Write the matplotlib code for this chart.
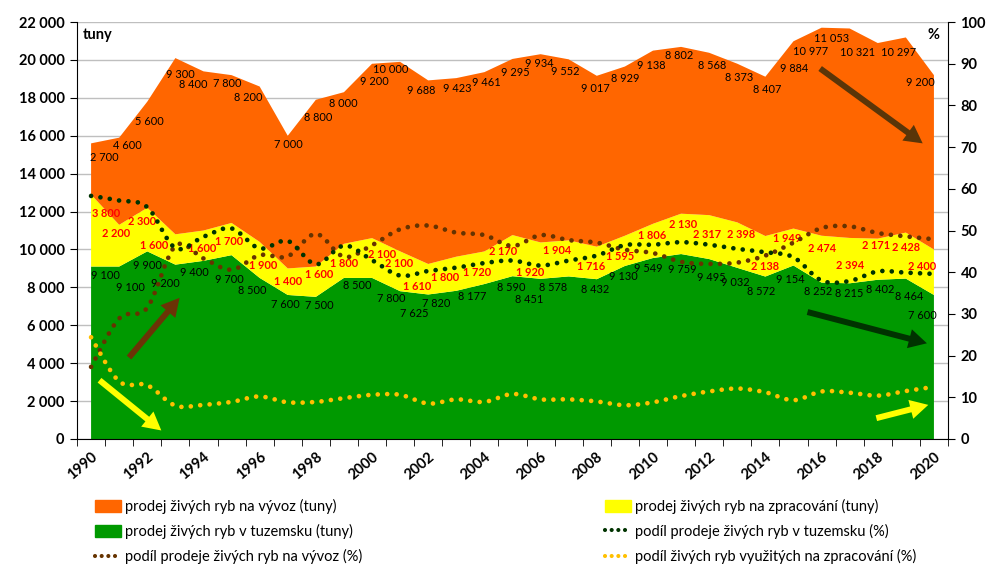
import matplotlib
matplotlib.use('Agg')
import matplotlib.pyplot as plt
import numpy as np
from matplotlib.path import Path
from matplotlib.patches import PathPatch, Patch
from matplotlib.lines import Line2D

plt.rcParams['font.family'] = ['Lato', 'DejaVu Sans']

# --- data (tonnes / %) ---
years = list(range(1990, 2021))

domestic_t = [9100, 9100, 9900, 9200, 9400, 9700, 8500, 7600, 7500, 8500,
              8500, 7800, 7625, 7820, 8177, 8590, 8451, 8578, 8432, 9130,
              9549, 9759, 9495, 9032, 8572, 9154, 8252, 8215, 8402, 8464, 7600]
processing_t = [3800, 2200, 2300, 1600, 1600, 1700, 1900, 1400, 1600, 1800,
                2100, 2100, 1610, 1800, 1720, 2170, 1920, 1904, 1716, 1595,
                1806, 2130, 2317, 2398, 2138, 1949, 2474, 2394, 2171, 2428, 2400]
export_t = [2700, 4600, 5600, 9300, 8400, 7800, 8200, 7000, 8800, 8000,
            9200, 10000, 9688, 9423, 9461, 9295, 9934, 9552, 9017, 8929,
            9138, 8802, 8568, 8373, 8407, 9884, 10977, 11053, 10321, 10297, 9200]

domestic_pct = [58.3, 57.2, 55.6, 45.8, 48.5, 50.5, 45.7, 47.5, 41.9, 46.4,
                42.9, 39.2, 40.3, 41.1, 42.2, 42.8, 41.6, 42.8, 44.0, 46.5,
                46.6, 47.2, 46.6, 45.6, 44.8, 43.6, 38.0, 37.9, 40.2, 39.9, 39.6]
export_pct = [17.3, 28.9, 31.5, 46.3, 43.3, 40.6, 44.1, 43.8, 49.2, 43.7,
              46.5, 50.3, 51.2, 49.5, 48.9, 46.3, 48.9, 47.7, 47.1, 45.4,
              44.6, 42.5, 42.0, 42.3, 44.0, 47.1, 50.6, 51.0, 49.4, 48.6, 47.9]
processing_pct = [24.4, 13.8, 12.9, 8.0, 8.2, 8.9, 10.2, 8.8, 8.9, 9.8,
                  10.6, 10.6, 8.5, 9.5, 8.9, 10.8, 9.5, 9.5, 9.0, 8.1,
                  8.8, 10.3, 11.4, 12.1, 11.2, 9.3, 11.4, 11.1, 10.4, 11.5, 12.5]

# label nudges in pixels (dx, dy; dy up), as placed in the reference
dom_off = [(14, -9), (11, -21), (0, -14), (-10, -19), (-9, -12), (-2, -24),
           (-7, -13), (-2, -10), (3, -9), (13, -8), None, (-9, -7),
           (-14, -19), (-20, -13), (-12, -12), (-1, -11), (-11, -21),
           (-16, -11), (-2, -10), (-2, -11), (-5, -10), (1, -15), (2, -18),
           (-2, -15), (-4, -15), (-3, -14), (-3, -9), (0, -10), (2, -10),
           (3, -18), (-12, -21)]
proc_off = [(15, 17), (-3, 12), (-5, 8), (-21, 4), (-1, -3), (-2, -2),
            (3, -6), (0, 0), (3, 7), (0, -3), (10, 4), (-1, 8), (-11, -7),
            (-11, -4), (-7, -5), (-9, 4), (-10, -12), (-12, 8), (-6, -4),
            (-5, -6), (-1, 5), (2, 9), (-2, 3), (4, 11), (0, -10), (-6, 9),
            (1, 11), (0, -5), (-2, 14), (0, 8), (-12, 6)]
exp_off = [(13, -14), (8, -8), (2, -20), (5, -16), (-10, -13), (-4, -8),
           (-11, -11), (1, -9), (2, -18), (-1, -11), (2, -18), (-9, -8),
           (-7, -10), (1, -10), (2, -10), (3, -14), (-1, -9), (-3, -12),
           (-1, -13), (0, -12), (-2, -15), (-2, -9), (3, -13), (2, -14),
           (2, -13), (1, -27), (-11, -24), (-18, -10), (-20, -9), (-7, -15),
           (-14, -7)]

ORANGE, YELLOW, GREEN = '#FF6600', '#FFFF00', '#009900'
DOT_GREEN, DOT_BROWN, DOT_YELLOW = '#003300', '#663300', '#FFC000'
PX2PT = 72 / 100


def fmt(v):
    return f'{v:,}'.replace(',', ' ')


def smooth_path(x, y):
    """Excel-like smoothed line as cubic Bezier segments."""
    n = len(x)
    verts, codes = [(x[0], y[0])], [Path.MOVETO]
    for i in range(n - 1):
        xa, ya = (x[i - 1], y[i - 1]) if i > 0 else (x[i], y[i])
        xb, yb = (x[i + 2], y[i + 2]) if i + 2 < n else (x[i + 1], y[i + 1])
        c1 = (x[i] + (x[i + 1] - xa) / 6, y[i] + (y[i + 1] - ya) / 6)
        c2 = (x[i + 1] - (xb - x[i]) / 6, y[i + 1] - (yb - y[i]) / 6)
        verts += [c1, c2, (x[i + 1], y[i + 1])]
        codes += [Path.CURVE4] * 3
    return Path(verts, codes)


fig = plt.figure(figsize=(9.94, 5.66), dpi=100)
ax = fig.add_axes([0.0775, 0.2244, 0.8762, 0.7366])

yrs = np.array(years)
d = np.array(domestic_t)
p = np.array(processing_t)
e = np.array(export_t)

ax.stackplot(yrs, d, p, e, colors=[GREEN, YELLOW, ORANGE], lw=0, zorder=2)

ax.set_xlim(1989.5, 2020.5)
ax.set_ylim(0, 22000)
ax.set_yticks(np.arange(0, 22001, 2000))
ax.set_yticklabels([fmt(v) for v in range(0, 22001, 2000)],
                   fontsize=10.5, fontweight='bold')
ax.yaxis.grid(True, color='#BFBFBF', lw=1)
ax.set_axisbelow(True)
ax.set_xticks(years[::2])
ax.set_xticklabels([str(y) for y in years[::2]], rotation=40, ha='right',
                   va='top', rotation_mode='anchor', fontsize=10.5,
                   fontweight='bold')
ax.set_xticks(np.arange(1989.5, 2021, 1), minor=True)
ax.tick_params(axis='x', which='major', length=0, pad=8)
ax.tick_params(axis='x', which='minor', length=5, direction='out')
ax.tick_params(axis='y', length=5, direction='out', pad=4)
for s in ['top', 'right']:
    ax.spines[s].set_visible(False)
ax.spines['left'].set_color('black')
ax.spines['bottom'].set_color('black')

# data labels
for i, yr in enumerate(years):
    layers = [
        (domestic_t[i], d[i], dom_off[i], 'black', 'normal'),
        (processing_t[i], d[i] + p[i] / 2, proc_off[i], '#FF0000', 'bold'),
        (export_t[i], d[i] + p[i] + e[i], exp_off[i], 'black', 'normal'),
    ]
    for val, ypos, off, col, wt in layers:
        if off is None:
            continue
        ax.annotate(fmt(val), (yr, ypos),
                    xytext=(off[0] * PX2PT, off[1] * PX2PT),
                    textcoords='offset points', ha='center', va='center',
                    fontsize=7.9, color=col, fontweight=wt, zorder=3)

ax.text(0.006, 0.985, 'tuny', transform=ax.transAxes, ha='left', va='top',
        fontsize=10.5, fontweight='bold')

# secondary axis with smoothed dotted shares
ax2 = ax.twinx()
ax2.set_ylim(0, 100)
ax2.set_yticks(np.arange(0, 101, 10))
ax2.set_yticklabels([str(v) for v in range(0, 101, 10)], fontsize=10.5,
                    fontweight='bold')
ax2.tick_params(axis='y', length=5, direction='out', pad=4)
for s in ['top', 'left', 'bottom']:
    ax2.spines[s].set_visible(False)
ax2.spines['right'].set_color('black')

dot_style = (0, (0.001, 2.0))
for vals, col in [(export_pct, DOT_BROWN), (domestic_pct, DOT_GREEN),
                  (processing_pct, DOT_YELLOW)]:
    patch = PathPatch(smooth_path(years, vals), fill=False, edgecolor=col,
                      lw=3.4, linestyle=dot_style, capstyle='round', zorder=4)
    ax2.add_patch(patch)

ax2.text(0.99, 0.985, '%', transform=ax2.transAxes, ha='right', va='top',
         fontsize=10.5, fontweight='bold')

# trend arrows
arrows = [
    ((1991.35, 4300), (1993.15, 7450), '#6B3306'),
    ((1990.3, 3100), (1992.5, 450), YELLOW),
    ((2015.95, 19550), (2019.6, 15600), '#5A3508'),
    ((2015.5, 6700), (2019.75, 5050), '#003300'),
    ((2017.95, 1100), (2019.8, 1800), YELLOW),
]
for start, end, col in arrows:
    ax.annotate('', xy=end, xytext=start,
                arrowprops=dict(width=4.3, headwidth=14, headlength=13,
                                color=col, shrink=0, lw=0),
                zorder=5, annotation_clip=False)

# legends
dots = (0, (0.001, 1.6))
h_left = [Patch(color=ORANGE, label='prodej živých ryb na vývoz (tuny)'),
          Patch(color=GREEN, label='prodej živých ryb v tuzemsku (tuny)'),
          Line2D([], [], color=DOT_BROWN, lw=3, linestyle=dots,
                 dash_capstyle='round',
                 label='podíl prodeje živých ryb na vývoz (%)')]
h_right = [Patch(color=YELLOW, label='prodej živých ryb na zpracování (tuny)'),
           Line2D([], [], color=DOT_GREEN, lw=3, linestyle=dots,
                  dash_capstyle='round',
                  label='podíl prodeje živých ryb v tuzemsku (%)'),
           Line2D([], [], color=DOT_YELLOW, lw=3, linestyle=dots,
                  dash_capstyle='round',
                  label='podíl živých ryb využitých na zpracování (%)')]
for handles, xpos in [(h_left, 0.0956), (h_right, 0.609)]:
    fig.legend(handles=handles, loc='upper left', bbox_to_anchor=(xpos, 0.119),
               frameon=False, fontsize=10.5, handlelength=1.75,
               handleheight=0.9, handletextpad=0.3, labelspacing=0.7,
               borderpad=0, borderaxespad=0)

fig.savefig('out.png', dpi=100)
